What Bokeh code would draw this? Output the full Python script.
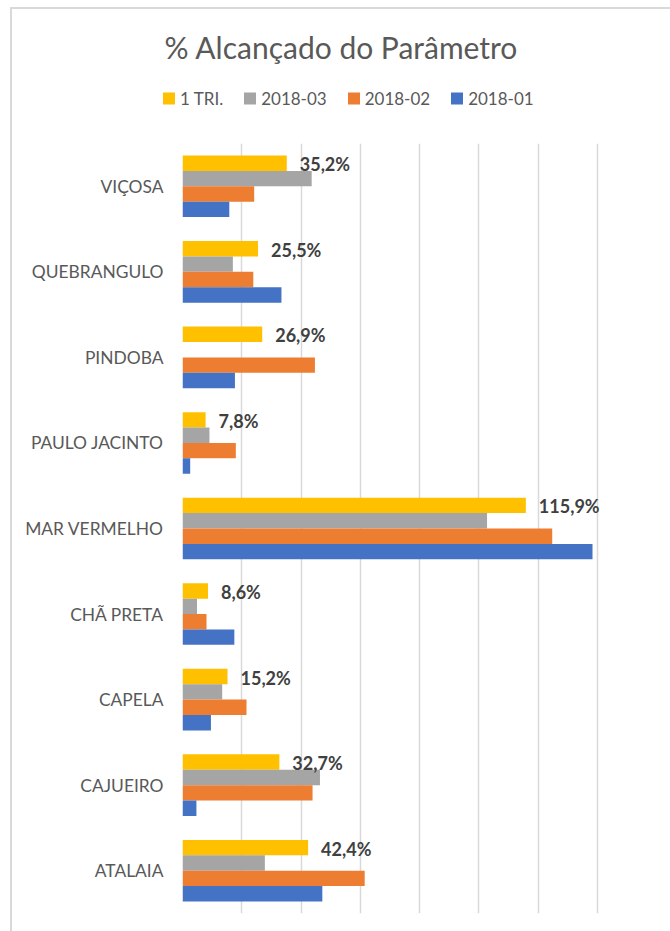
from bokeh.plotting import figure
from bokeh.layouts import column
from bokeh.models import FactorRange, Range1d, FixedTicker, ColumnDataSource, Div
from bokeh.transform import dodge
from bokeh.core.properties import value
from bokeh.embed import file_html
from bokeh.resources import INLINE

# ---- data (bottom to top) ----
categories = ["ATALAIA", "CAJUEIRO", "CAPELA", "CHÃ PRETA", "MAR VERMELHO",
              "PAULO JACINTO", "PINDOBA", "QUEBRANGULO", "VIÇOSA"]
tri_1 = [42.4, 32.7, 15.2, 8.6, 115.9, 7.8, 26.9, 25.5, 35.2]
m2018_03 = [27.8, 46.4, 13.4, 4.9, 102.8, 9.1, 0.0, 17.0, 43.6]
m2018_02 = [61.5, 43.9, 21.6, 8.1, 124.8, 18.0, 44.7, 23.9, 24.2]
m2018_01 = [47.2, 4.7, 9.6, 17.5, 138.4, 2.6, 17.7, 33.4, 15.8]
tri_labels = ["42,4%", "32,7%", "15,2%", "8,6%", "115,9%", "7,8%", "26,9%", "25,5%", "35,2%"]
series_names = ["1 TRI.", "2018-03", "2018-02", "2018-01"]
x_ticks = [0, 20, 40, 60, 80, 100, 120, 140, 160]
title_text = "% Alcançado do Parâmetro"

colors = ["#FFC000", "#A5A5A5", "#ED7D31", "#4472C4"]
FONT = "Lato"
W = 658
HH = 120          # header height
HM = 802          # main chart height

# ---------------- header: title + legend (HTML text) ----------------
items_html = "".join(
    f'<span style="display:inline-flex;align-items:center;margin-right:21px;">'
    f'<span style="display:inline-block;width:12px;height:12px;background:{c};'
    f'margin-right:5px;"></span>{n}</span>'
    for n, c in zip(series_names, colors))
header_html = (
    f'<div style="position:relative;width:{W}px;height:{HH}px;background:white;'
    f'font-family:{FONT};color:#595959;">'
    f'<div style="position:absolute;left:329px;top:38px;transform:translate(-50%,-50%);'
    f'white-space:nowrap;font-size:30px;line-height:1;">{title_text}</div>'
    f'<div style="position:absolute;left:151px;top:89px;transform:translateY(-50%);'
    f'white-space:nowrap;font-size:17px;line-height:1;display:flex;align-items:center;">'
    f'{items_html}</div></div>')
hdr = Div(text=header_html, width=W, height=HH, margin=0)

# ---------------- main chart ----------------
src = ColumnDataSource(dict(cat=categories, t1=tri_1, s3=m2018_03, s2=m2018_02,
                            s1=m2018_01, lab=tri_labels))

p = figure(width=W, height=HM, y_range=FactorRange(factors=categories),
           x_range=Range1d(0, 160), output_backend="svg", toolbar_location=None,
           min_border_left=170, min_border_right=14, min_border_top=14,
           min_border_bottom=18)
p.outline_line_color = None
p.background_fill_color = "white"
p.border_fill_color = "white"

p.xaxis.visible = False
p.xgrid.ticker = FixedTicker(ticks=x_ticks)
p.xgrid.grid_line_color = "#d9d9d9"
p.xgrid.grid_line_width = 1.5
p.ygrid.grid_line_color = None
p.yaxis.axis_line_color = None
p.yaxis.major_tick_line_color = None
p.yaxis.minor_tick_line_color = None
p.yaxis.major_tick_out = 0
p.yaxis.major_label_standoff = 19
p.yaxis.major_label_text_font = FONT
p.yaxis.major_label_text_font_size = "17.4px"
p.yaxis.major_label_text_color = "#595959"

bh = 0.18
cols = ["t1", "s3", "s2", "s1"]
offs = [0.27, 0.09, -0.09, -0.27]
for c, o, col in zip(cols, offs, colors):
    p.hbar(y=dodge("cat", o, range=p.y_range), right=c, left=0, height=bh,
           source=src, fill_color=col, line_color=None)

p.text(x="t1", y=dodge("cat", 0.27, range=p.y_range), text="lab", source=src,
       x_offset=13, y_offset=1, text_baseline="middle", text_align="left",
       text_font=value(FONT), text_font_style="bold", text_font_size="18px",
       text_color="#404040")

layout = column(hdr, p, spacing=0,
                styles={"margin-left": "10px", "margin-top": "7px",
                        "border-left": "2px solid #d9d9d9",
                        "border-top": "2px solid #d9d9d9"})

open("out.html", "w").write(file_html(layout, INLINE))
